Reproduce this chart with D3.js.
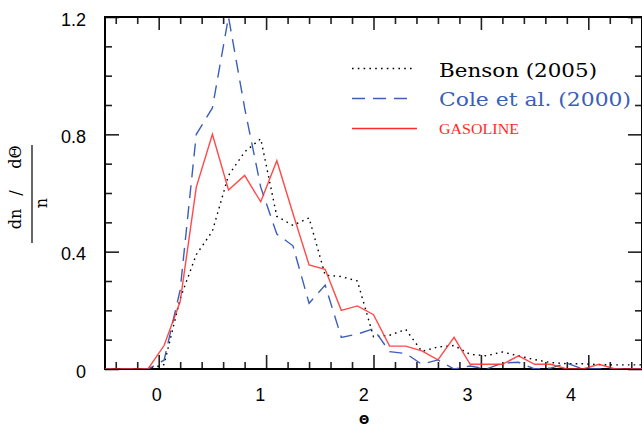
<!DOCTYPE html>
<html>
<head>
<meta charset="utf-8">
<script src="https://cdn.jsdelivr.net/npm/d3@7"></script>
<style>
  html, body { margin: 0; padding: 0; background: #fff; }
  svg { display: block; }
</style>
</head>
<body>
<svg id="chart" width="642" height="427"></svg>
<script>
// ---- data ----
const theta = [-0.55,-0.4,-0.25,-0.1,0.05,0.2,0.35,0.5,0.65,0.8,0.95,1.1,1.25,1.4,1.55,1.7,1.85,2.0,2.15,2.3,2.45,2.6,2.75,2.9,3.05,3.2,3.35,3.5,3.65,3.8,3.95,4.1,4.25,4.4,4.55];
const benson = [0,0,0,0,0.015,0.24,0.39,0.47,0.66,0.74,0.785,0.52,0.49,0.515,0.32,0.315,0.30,0.11,0.115,0.135,0.06,0.075,0.08,0.05,0.045,0.058,0.045,0.032,0.022,0.018,0.018,0.015,0.014,0.014,0.014];
const cole = [0,0,0,0,0.03,0.27,0.80,0.89,1.20,0.89,0.62,0.46,0.42,0.224,0.286,0.108,0.119,0.137,0.059,0.053,0.016,0.031,0,0.01,0,0.02,0.023,0,0.003,0.02,0,0,0,0,0];
const gasoline = [0,0,0,0,0.08,0.23,0.62,0.80,0.61,0.66,0.57,0.71,0.53,0.355,0.34,0.20,0.215,0.185,0.078,0.078,0.062,0.031,0.108,0.016,0.016,0.016,0.045,0.016,0.016,0,0,0.016,0,0,0];
const seriesNames = ["Benson (2005)", "Cole et al. (2000)", "GASOLINE"];
const xTickLabels = [0, 1, 2, 3, 4];
const yTickLabels = [0, 0.4, 0.8, 1.2];

// ---- layout ----
const svg = d3.select("#chart");
const L = 105, R = 642, T = 17, B = 369;
const x = d3.scaleLinear().domain([-0.5, 4.5]).range([L, R]);
const y = d3.scaleLinear().domain([0, 1.2]).range([B, T]);
const xLab = d3.scaleLinear().domain([0, 4]).range([156.7, 571]);

const series = [
  {name: seriesNames[0], values: benson, color: "#000", dash: "1.6,4.2", width: 1.4},
  {name: seriesNames[1], values: cole, color: "#3b5fb8", dash: "13,8", width: 1.4},
  {name: seriesNames[2], values: gasoline, color: "#ff2a2a", dash: null, width: 1.4}
];

svg.append("defs").append("clipPath").attr("id", "clip")
  .append("rect").attr("x", L).attr("y", T - 2).attr("width", R - L).attr("height", B - T + 2);

// ticks
const xMajor = d3.range(0, 5, 1);
const xMinor = d3.range(-0.4, 4.5, 0.2).filter(v => Math.abs(v - Math.round(v)) > 1e-6);
const yMajor = [0, 0.4, 0.8, 1.2];
const yMinor = d3.range(0.1, 1.2, 0.1).filter(v => Math.abs(v * 10 % 4) > 1e-6 && Math.abs(v*10 % 4 - 4) > 1e-6);

function tickAxis(axisFn, scale, vals, len, transform) {
  svg.append("g").attr("transform", transform)
    .call(axisFn(scale).tickValues(vals).tickSize(len).tickFormat(""))
    .call(gg => gg.select(".domain").remove())
    .call(gg => gg.selectAll(".tick line").attr("stroke", "#222").attr("stroke-width", 1.6));
}
tickAxis(d3.axisTop, x, xMajor, 14, `translate(0,${B})`);
tickAxis(d3.axisTop, x, xMinor, 7, `translate(0,${B})`);
tickAxis(d3.axisBottom, x, xMajor, 13, `translate(0,${T})`);
tickAxis(d3.axisBottom, x, xMinor, 7, `translate(0,${T})`);
tickAxis(d3.axisRight, y, yMajor, 14, `translate(${L},0)`);
tickAxis(d3.axisRight, y, yMinor, 7, `translate(${L},0)`);
tickAxis(d3.axisLeft, y, yMajor, 14, `translate(${R},0)`);
tickAxis(d3.axisLeft, y, yMinor, 7, `translate(${R},0)`);

// frame
svg.append("rect").attr("x", L).attr("y", T).attr("width", R - L).attr("height", B - T)
  .attr("fill", "none").attr("stroke", "#000").attr("stroke-width", 2);

// lines (on top of frame)
const line = d3.line().x((d, i) => x(theta[i])).y(d => y(d));
const g = svg.append("g").attr("clip-path", "url(#clip)");
series.forEach(s => {
  g.append("path").datum(s.values)
    .attr("d", line)
    .attr("fill", "none")
    .attr("stroke", s.color)
    .attr("stroke-opacity", s.dash ? 1 : 0.85)
    .attr("stroke-width", s.width)
    .attr("stroke-dasharray", s.dash)
    .attr("stroke-linejoin", "miter");
});

// tick labels
svg.append("g").selectAll("text").data(xTickLabels).join("text")
  .attr("x", d => xLab(d)).attr("y", 395)
  .attr("text-anchor", "middle").attr("dominant-baseline", "central")
  .attr("font-family", "Liberation Sans, Arial, sans-serif").attr("font-size", 18)
  .attr("fill", "#000").text(d => d);

svg.append("g").selectAll("text").data(yTickLabels).join("text")
  .attr("x", 86).attr("y", d => y(d) + 2.5)
  .attr("text-anchor", "end").attr("dominant-baseline", "central")
  .attr("font-family", "Liberation Sans, Arial, sans-serif").attr("font-size", 18)
  .attr("fill", "#000").text(d => d === 0 ? "0" : d3.format(".1f")(d));

// x axis title
svg.append("text").attr("x", 364).attr("y", 420)
  .attr("text-anchor", "middle").attr("dominant-baseline", "central")
  .attr("font-family", "DejaVu Sans, sans-serif").attr("font-size", 12).attr("font-weight", "bold")
  .text("Θ");

// y axis title (fraction, rotated)
const yt = svg.append("g").attr("transform", "translate(0,194) rotate(-90)");
const numParts = [{t: "dn", x: -25}, {t: "/", x: 1}, {t: "dΘ", x: 37}];
yt.selectAll("text.num").data(numParts).join("text").attr("class", "num")
  .attr("x", d => d.x).attr("y", 15)
  .attr("text-anchor", "middle").attr("dominant-baseline", "central")
  .attr("font-family", "DejaVu Serif, serif").attr("font-size", 16)
  .text(d => d.t);
yt.append("line").attr("x1", -49).attr("x2", 49).attr("y1", 32).attr("y2", 32)
  .attr("stroke", "#000").attr("stroke-width", 1.2);
yt.append("text").attr("x", -9).attr("y", 41)
  .attr("text-anchor", "middle").attr("dominant-baseline", "central")
  .attr("font-family", "DejaVu Serif, serif").attr("font-size", 16)
  .text("n");

// legend
const legend = [
  {s: series[0], ly: 68.5, ty: 69.5, tw: 158, fs: 19, ff: "DejaVu Serif, serif", x2: 413},
  {s: series[1], ly: 98.5, ty: 98.5, tw: 192, fs: 19, ff: "DejaVu Serif, serif", x2: 410},
  {s: series[2], ly: 128.5, ty: 129, tw: 80, fs: 14, ff: "Liberation Serif, Times New Roman, serif", x2: 417}
];
legend.forEach(l => {
  svg.append("line").attr("x1", 352).attr("x2", l.x2).attr("y1", l.ly).attr("y2", l.ly)
    .attr("stroke", l.s.color).attr("stroke-width", l.s.width)
    .attr("stroke-dasharray", l.s.dash);
  svg.append("text").attr("x", 439).attr("y", l.ty)
    .attr("dominant-baseline", "central")
    .attr("font-family", l.ff).attr("font-size", l.fs)
    .attr("textLength", l.tw).attr("lengthAdjust", "spacingAndGlyphs")
    .attr("fill", l.s.color)
    .text(l.s.name);
});
</script>
</body>
</html>
